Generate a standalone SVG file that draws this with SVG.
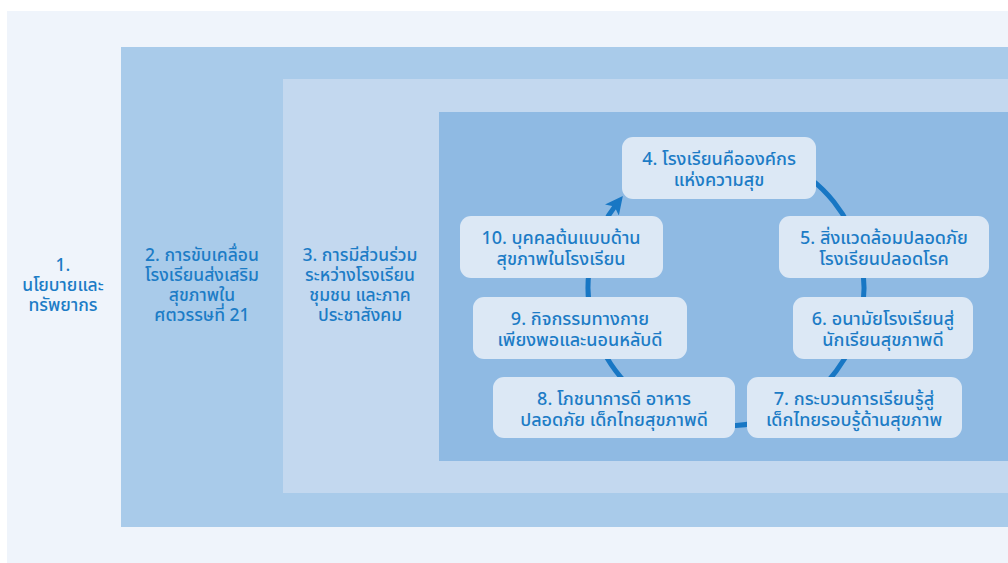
<svg xmlns="http://www.w3.org/2000/svg" width="1008" height="563" viewBox="0 0 1008 563">
  <style>
    .lbl { font-family: "Noto Sans Thai", "Noto Sans", "DejaVu Sans", sans-serif; font-size: 18px; font-weight: 500; fill: #1C7CC6; text-anchor: middle; }
    .side { font-size: 17.5px; }
    .node rect { fill: #DCE8F5; }
    .link { fill: none; stroke: #1877C4; stroke-width: 5; }
  </style>
  <defs>
    <marker id="head" viewBox="0 0 10 10" refX="5" refY="5" markerWidth="3.6" markerHeight="3.6" orient="auto" markerUnits="strokeWidth">
      <path d="M0,0 L10,5 L0,10 L2.5,5 z" fill="#1877C4"/>
    </marker>
  </defs>

  <!-- nested layers -->
  <rect x="0" y="0" width="1008" height="563" fill="#FFFFFF"/>
  <rect id="layer-1" x="7" y="11" width="1001" height="552" fill="#EFF4FB"/>
  <rect id="layer-2" x="121" y="47" width="887" height="480" fill="#A9CBEA"/>
  <rect id="layer-3" x="283" y="79" width="725" height="414" fill="#C3D8EF"/>
  <rect id="layer-4" x="439" y="112" width="569" height="349" fill="#8FBAE3"/>

  <!-- layer titles -->
  <g id="title-1">
    <text class="lbl side" x="63" y="271">1.</text>
    <text class="lbl side" x="63" y="291">นโยบายและ</text>
    <text class="lbl side" x="63" y="311">ทรัพยากร</text>
  </g>
  <g id="title-2">
    <text class="lbl side" x="202" y="261">2. การขับเคลื่อน</text>
    <text class="lbl side" x="202" y="281">โรงเรียนส่งเสริม</text>
    <text class="lbl side" x="202" y="301">สุขภาพใน</text>
    <text class="lbl side" x="202" y="321">ศตวรรษที่ 21</text>
  </g>
  <g id="title-3">
    <text class="lbl side" x="360" y="261">3. การมีส่วนร่วม</text>
    <text class="lbl side" x="360" y="281">ระหว่างโรงเรียน</text>
    <text class="lbl side" x="360" y="301">ชุมชน และภาค</text>
    <text class="lbl side" x="360" y="321">ประชาสังคม</text>
  </g>

  <!-- cycle connector -->
  <g id="connectors">
    <path class="link" d="M726,150 A138,138 0 1 1 617.3,203" marker-end="url(#head)"/>
  </g>

  <!-- cycle nodes -->
  <g id="node-4" class="node">
    <rect x="622" y="137" width="194" height="62" rx="11"/>
    <text class="lbl" x="719" y="165">4. โรงเรียนคือองค์กร</text>
    <text class="lbl" x="719" y="186">แห่งความสุข</text>
  </g>
  <g id="node-5" class="node">
    <rect x="779" y="216" width="210" height="62" rx="11"/>
    <text class="lbl" x="884" y="244">5. สิ่งแวดล้อมปลอดภัย</text>
    <text class="lbl" x="884" y="265">โรงเรียนปลอดโรค</text>
  </g>
  <g id="node-6" class="node">
    <rect x="793" y="297" width="180" height="62" rx="11"/>
    <text class="lbl" x="883" y="325">6. อนามัยโรงเรียนสู่</text>
    <text class="lbl" x="883" y="346">นักเรียนสุขภาพดี</text>
  </g>
  <g id="node-7" class="node">
    <rect x="747" y="377" width="215" height="61" rx="11"/>
    <text class="lbl" x="854" y="405">7. กระบวนการเรียนรู้สู่</text>
    <text class="lbl" x="854" y="426">เด็กไทยรอบรู้ด้านสุขภาพ</text>
  </g>
  <g id="node-8" class="node">
    <rect x="493" y="377" width="242" height="61" rx="11"/>
    <text class="lbl" x="614" y="405">8. โภชนาการดี อาหาร</text>
    <text class="lbl" x="614" y="426">ปลอดภัย เด็กไทยสุขภาพดี</text>
  </g>
  <g id="node-9" class="node">
    <rect x="473" y="297" width="214" height="62" rx="11"/>
    <text class="lbl" x="580" y="325">9. กิจกรรมทางกาย</text>
    <text class="lbl" x="580" y="346">เพียงพอและนอนหลับดี</text>
  </g>
  <g id="node-10" class="node">
    <rect x="460" y="216" width="203" height="62" rx="11"/>
    <text class="lbl" x="561" y="244">10. บุคคลต้นแบบด้าน</text>
    <text class="lbl" x="561" y="265">สุขภาพในโรงเรียน</text>
  </g>
</svg>
